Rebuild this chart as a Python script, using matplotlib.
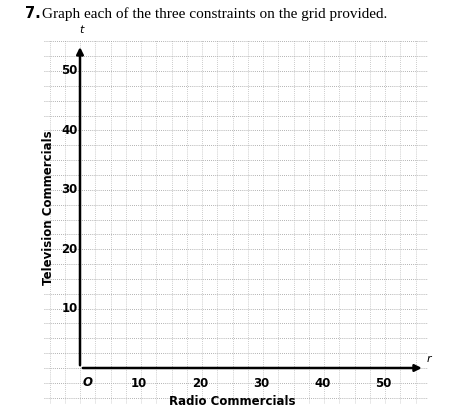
import numpy as np
import matplotlib.pyplot as plt

x_ticks = [10, 20, 30, 40, 50]
y_ticks = [10, 20, 30, 40, 50]
x_label = "Radio Commercials"
y_label = "Television Commercials"
title = "Graph each of the three constraints on the grid provided."

W, H = 449, 412
fig = plt.figure(figsize=(W/100, H/100), dpi=100)
L, R, T, B = 44, 428, 40, 404
ax = fig.add_axes([L/W, 1-B/H, (R-L)/W, (B-T)/H])
sx, ox = 6.1, 80
sy, oy = 5.94, 368
ax.set_xlim((L-ox)/sx, (R-ox)/sx)
ax.set_ylim((oy-B)/sy, (oy-T)/sy)
for s in ax.spines.values():
    s.set_visible(False)
ax.set_xticks([]); ax.set_yticks([])
g = np.arange(-5, 57.6, 2.5)
for v in g:
    ax.axvline(v, color='#bbbbbb', lw=0.6, ls=(0, (1, 1.5)), zorder=1)
    ax.axhline(v, color='#999999', lw=0.6, ls=(0, (1, 1.5)), zorder=1)
ax.annotate('', xy=(56.5, 0), xytext=(0, 0),
            arrowprops=dict(arrowstyle='-|>', lw=1.8, color='black', mutation_scale=10))
ax.annotate('', xy=(0, 54.5), xytext=(0, 0),
            arrowprops=dict(arrowstyle='-|>', lw=1.8, color='black', mutation_scale=10))
for v in x_ticks:
    ax.text(v-0.3, -1.5, str(v), ha='center', va='top', fontsize=8.5, fontweight='bold')
for v in y_ticks:
    ax.text(-0.4, v, str(v), ha='right', va='center', fontsize=8.5, fontweight='bold')
ax.text(1.3, -1.3, 'O', ha='center', va='top', fontsize=8.5, fontweight='bold', style='italic')
ax.text(57.2, 0.7, 'r', ha='center', va='bottom', fontsize=8, style='italic')
ax.text(0.2, 56, 't', ha='center', va='bottom', fontsize=8, style='italic', clip_on=False)
ax.text(25, -4.5, x_label, ha='center', va='top', fontsize=8.5, fontweight='bold')
ax.text(-5.2, 27, y_label, ha='center', va='center', rotation=90, fontsize=8.5, fontweight='bold')
fig.text(25/W, 1-14/H, '7.', ha='left', va='center', fontsize=10.5, fontweight='bold')
fig.text(42/W, 1-14/H, title, ha='left', va='center', fontsize=11, family='Liberation Serif')
fig.savefig('out.png', dpi=100)
